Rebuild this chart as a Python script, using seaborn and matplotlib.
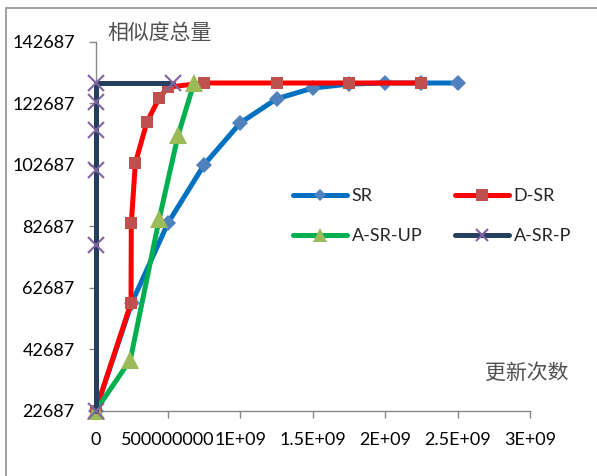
# line chart: total similarity vs number of updates, four methods

import numpy as np
import pandas as pd
import matplotlib.pyplot as plt
import seaborn as sns
from matplotlib.patches import Rectangle

# data
sr_x = [0, 2.5e8, 5e8, 7.5e8, 1e9, 1.25e9, 1.5e9, 1.75e9, 2e9, 2.25e9, 2.5e9]
sr_y = [22687, 57800, 83800, 102800, 116400, 124200, 127700, 129000, 129350, 129350, 129350]

dsr_x = [0, 2.45e8, 2.47e8, 2.75e8, 3.55e8, 4.4e8, 5e8, 7.5e8, 1.25e9, 1.75e9, 2.25e9]
dsr_y = [22687, 57800, 83800, 103300, 116700, 124500, 128000, 129350, 129350, 129350, 129350]

up_x = [0, 2.4e8, 4.4e8, 5.7e8, 6.8e8]
up_y = [22687, 39300, 85200, 112400, 129350]

p_x = [0, 0, 0, 0, 0, 0, 5.35e8]
p_y = [22687, 76700, 101000, 114100, 123200, 129350, 129350]

x_ticks = [0, 5e8, 1e9, 1.5e9, 2e9, 2.5e9, 3e9]
x_labels = ['0', '500000000', '1E+09', '1.5E+09', '2E+09', '2.5E+09', '3E+09']
y_ticks = [22687, 42687, 62687, 82687, 102687, 122687, 142687]

y_title = '相似度总量'
x_title = '更新次数'

sns.set_style('white')
plt.rcParams['font.family'] = ['Lato', 'DejaVu Sans']

fig = plt.figure(figsize=(5.97, 4.76), dpi=100)
ax = fig.add_axes([0.16, 0.1366, 0.728, 0.7752])

lw = 3.6
# series: (x, y, label, line colour, marker, marker size, marker colour, legend marker size)
series = [
    (sr_x, sr_y, 'SR', '#0070C0', 'D', 8.5, '#4F81BD', 6.5),
    (dsr_x, dsr_y, 'D-SR', '#FF0000', 's', 8.0, '#C0504D', 8.5),
    (up_x, up_y, 'A-SR-UP', '#00B050', '^', 13, '#9BBB59', 10),
    (p_x, p_y, 'A-SR-P', '#243F60', 'x', 11.5, '#8064A2', 8),
]
for i, (xs, ys, lab, col, mk, ms, mcol, _) in enumerate(series):
    df = pd.DataFrame({'x': xs, 'y': ys})
    mew = 1.5 if mk == 'x' else 0
    sns.lineplot(data=df, x='x', y='y', sort=False, estimator=None, ax=ax,
                 color=col, linewidth=lw, marker=mk, markersize=ms,
                 markerfacecolor=mcol, markeredgecolor=mcol,
                 markeredgewidth=mew, label=lab, solid_capstyle='round',
                 clip_on=False, zorder=3 + i)

ax.set_xlim(0, 3e9)
ax.set_ylim(22687, 142687)
ax.set_xticks(x_ticks)
ax.set_xticklabels(x_labels)
ax.set_yticks(y_ticks)
ax.set_yticklabels([str(v) for v in y_ticks])
ax.set_xlabel('')
ax.set_ylabel('')

for s in ['top', 'right']:
    ax.spines[s].set_visible(False)
for s in ['left', 'bottom']:
    ax.spines[s].set_color('#868686')
    ax.spines[s].set_linewidth(1.0)
ax.tick_params(axis='both', which='major', direction='out', length=5,
               width=1.0, color='#868686', labelsize=13, labelcolor='black',
               left=True, bottom=True)
ax.tick_params(axis='y', pad=10)
ax.tick_params(axis='x', pad=10)

# legend filled row by row: SR, D-SR / A-SR-UP, A-SR-P
handles, labels = ax.get_legend_handles_labels()
order = [0, 2, 1, 3]
leg = ax.legend([handles[k] for k in order], [labels[k] for k in order],
                loc='upper left', bbox_to_anchor=(293 / 597, 1 - 188 / 476),
                bbox_transform=fig.transFigure, ncol=2, frameon=False,
                fontsize=13, handlelength=3.0, handletextpad=0.25,
                columnspacing=1.8, labelspacing=1.35, borderpad=0,
                borderaxespad=0)
for h, k in zip(leg.legend_handles, order):
    h.set_markersize(series[k][7])

fig.text(160 / 597, 1 - 33 / 476, y_title, ha='center', va='center',
         fontsize=15, color='#505050', family=['Noto Sans CJK SC', 'DejaVu Sans'])
fig.text(527 / 597, 1 - 373 / 476, x_title, ha='center', va='center',
         fontsize=15, color='#505050', family=['Noto Sans CJK SC', 'DejaVu Sans'])

# outer chart border
fig.add_artist(Rectangle((6 / 597, -0.1), 1.2, 0.1 + 1 - 8 / 476,
                         transform=fig.transFigure, fill=False,
                         edgecolor='#a0a0a0', linewidth=1.4))

fig.savefig('out.png', dpi=100)
